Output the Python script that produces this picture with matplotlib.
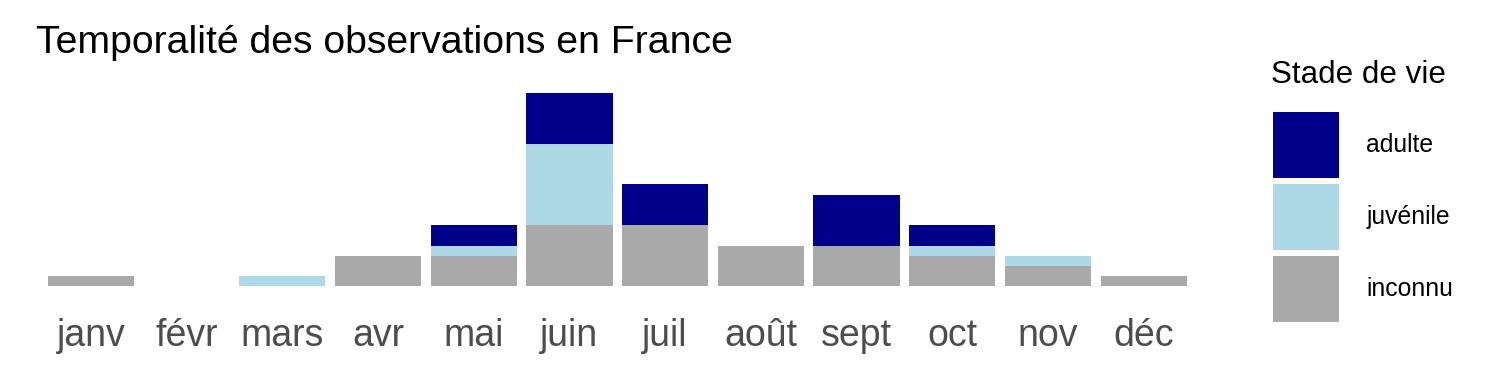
import numpy as np
import matplotlib
matplotlib.use("Agg")
import matplotlib.pyplot as plt
from matplotlib.patches import Patch

plt.rcParams['font.family'] = ['Liberation Sans', 'DejaVu Sans']

mois = ['janv', 'févr', 'mars', 'avr', 'mai', 'juin', 'juil', 'août', 'sept', 'oct', 'nov', 'déc']
inconnu = [1, 0, 0, 3, 3, 6, 6, 4, 4, 3, 2, 1]
juvenile = [0, 0, 1, 0, 1, 8, 0, 0, 0, 1, 1, 0]
adulte = [0, 0, 0, 0, 2, 5, 4, 0, 5, 2, 0, 0]

couleurs = {'adulte': '#00008B', 'juvénile': '#ADD8E6', 'inconnu': '#A9A9A9'}

fig = plt.figure(figsize=(15, 3.75), dpi=100)
ax = fig.add_axes([0.0224, 0.2107, 0.7783, 0.568])

x = np.arange(1, len(mois) + 1)
inc = np.array(inconnu)
juv = np.array(juvenile)
adu = np.array(adulte)
ax.bar(x, inc, width=0.9, color=couleurs['inconnu'])
ax.bar(x, juv, width=0.9, bottom=inc, color=couleurs['juvénile'])
ax.bar(x, adu, width=0.9, bottom=inc + juv, color=couleurs['adulte'])

total = inc + juv + adu
ax.set_xlim(0.4, len(mois) + 0.6)
ax.set_ylim(-0.05 * total.max(), total.max() * 1.05)
ax.set_xticks(x)
ax.set_xticklabels(mois, fontsize=27, color='#4D4D4D')
ax.tick_params(axis='x', length=0, pad=16)
ax.set_yticks([])
for s in ax.spines.values():
    s.set_visible(False)

fig.text(36 / 1500, 1 - 53 / 375, "Temporalité des observations en France",
         fontsize=28.3, va='baseline', ha='left')

# titre de légende placé à part
fig.text(1271 / 1500, 1 - 83 / 375, "Stade de vie", fontsize=22.6,
         va='baseline', ha='left')

handles = [Patch(facecolor=couleurs[k], edgecolor='none') for k in ['adulte', 'juvénile', 'inconnu']]
leg = fig.legend(handles, ['adulte', 'juvénile', 'inconnu'], loc='upper left',
                 bbox_to_anchor=(1273 / 1500, 1 - 112 / 375), frameon=False,
                 fontsize=17.8, handlelength=2.67, handleheight=3.73,
                 labelspacing=0.24, handletextpad=1.1, borderaxespad=0,
                 borderpad=0)

fig.savefig('out.png', dpi=100)
